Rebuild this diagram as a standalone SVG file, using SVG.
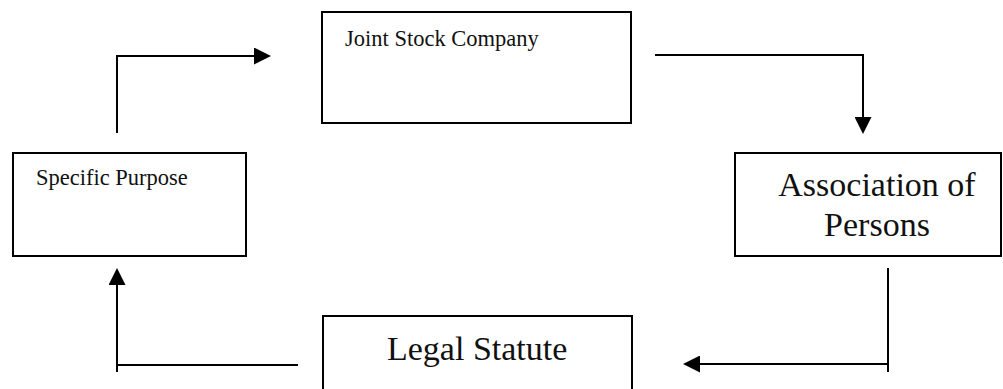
<svg xmlns="http://www.w3.org/2000/svg" width="1003" height="389" viewBox="0 0 1003 389">
<style>
.box{fill:#fff;stroke:#000;stroke-width:2}
.t{font-family:"Liberation Serif","Times New Roman",serif;fill:#111}
.sm{font-size:22.5px}
.lg{font-size:34px}
.c{fill:none;stroke:#000;stroke-width:2}
</style>
<defs>
<marker id="ah" viewBox="0 0 17 17" refX="0" refY="8.5" markerWidth="17" markerHeight="17" markerUnits="userSpaceOnUse" orient="auto">
<path d="M0,0 L17,8.5 L0,17 z" fill="#000"/>
</marker>
</defs>
<rect width="1003" height="389" fill="#fff"/>
<g id="connectors">
<path class="c" d="M117,133 V56 H254" marker-end="url(#ah)"/>
<path class="c" d="M655,55 H863 V117" marker-end="url(#ah)"/>
<path class="c" d="M888,268 V372 M888,364 H700" marker-end="url(#ah)"/>
<path class="c" d="M298,365 H117 M117,372 V285" marker-end="url(#ah)"/>
</g>
<g id="jsc">
<rect class="box" x="322" y="12" width="309" height="111"/>
<text class="t sm" x="345" y="46">Joint Stock Company</text>
</g>
<g id="aop">
<rect class="box" x="735" y="153" width="266" height="103"/>
<text class="t lg" x="877" y="196" text-anchor="middle">Association of</text>
<text class="t lg" x="877" y="236" text-anchor="middle">Persons</text>
</g>
<g id="legal">
<rect class="box" x="323" y="316" width="309" height="100"/>
<text class="t lg" x="387" y="360">Legal Statute</text>
</g>
<g id="sp">
<rect class="box" x="13" y="153" width="233" height="103"/>
<text class="t sm" x="36" y="185">Specific Purpose</text>
</g>
</svg>
